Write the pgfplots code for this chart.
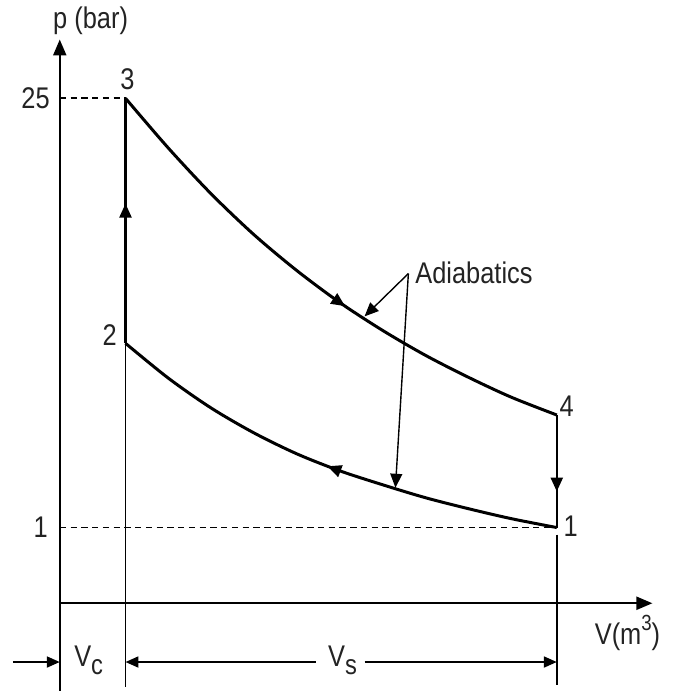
\documentclass[border=0pt]{standalone}
\usepackage{fontspec}
\setmainfont{Liberation Sans}[FakeStretch=0.85]
\usepackage{pgfplots}
\pgfplotsset{compat=1.18}
\usetikzlibrary{arrows.meta,decorations.markings}
\definecolor{txt}{RGB}{35,35,35}
\begin{document}
\begin{tikzpicture}[font=\fontsize{15}{18}\selectfont, text=txt,
  tri/.tip={Triangle[length=7pt,width=6pt]}, dtri/.tip={Triangle[length=6.5pt,width=5.5pt]}]
\begin{axis}[hide axis, x=0.5pt, y=0.5pt, xmin=0, xmax=680, ymin=0, ymax=692, clip=false,
  midarrow/.style={postaction={decorate}, decoration={markings, mark=at position #1 with {\arrow{Triangle[length=7pt,width=6pt]}}}}]
\path (axis cs:0,0) rectangle (axis cs:680,692);
% adiabatic expansion 3 -> 4
\addplot[line width=1.5pt, smooth, tension=0.5, midarrow=0.56] coordinates {
 (126,595) (169,545) (212,499) (255,458) (298,422) (341,390) (384,362) (427,337)
 (470,315) (513,295) (559,277)};
% adiabatic compression 1 -> 2
\addplot[line width=1.5pt, smooth, tension=0.5, midarrow=0.50] coordinates {
 (559,164) (513,173) (470,183) (427,194) (384,207) (341,221) (298,238) (255,259)
 (212,284) (169,314) (126,349)};
% constant volume 2 -> 3
\addplot[line width=1.2pt, midarrow=0.57] coordinates {(126,349) (126,595)};
% constant volume 4 -> 1
\addplot[line width=1.2pt, midarrow=0.68] coordinates {(559,277) (559,164)};
% axes
\draw[line width=1.1pt, -{Triangle[length=8pt,width=6.5pt]}] (axis cs:60,0) -- (axis cs:60,654);
\draw[line width=1.1pt, -{Triangle[length=8pt,width=6.5pt]}] (axis cs:60,88) -- (axis cs:655,88);
% vertical extension lines
\draw[line width=1pt] (axis cs:126,349) -- (axis cs:126,4);
\draw[line width=1pt] (axis cs:559,157) -- (axis cs:559,6);
% dashed lines
\draw[line width=0.9pt, dash pattern=on 3.2pt off 2.2pt] (axis cs:60,595) -- (axis cs:126,595);
\draw[line width=0.9pt, dash pattern=on 3.2pt off 2.2pt] (axis cs:60,164) -- (axis cs:559,164);
% leader lines
\draw[line width=0.7pt, -{tri}] (axis cs:410,419) -- (axis cs:366,376);
\draw[line width=0.7pt, -{tri}] (axis cs:410,419) -- (axis cs:397,204);
\node[anchor=west] at (axis cs:410,420) {Adiabatics};
% dimension arrows
\draw[line width=1pt, -{dtri}] (axis cs:13,29) -- (axis cs:60,29);
\draw[line width=1pt, {dtri}-] (axis cs:126,29) -- (axis cs:317,29);
\draw[line width=1pt, -{dtri}] (axis cs:366,29) -- (axis cs:559,29);
\node at (axis cs:89,31) {V\raisebox{-4pt}{\fontsize{14}{14}\selectfont c}};
\node at (axis cs:344,31) {V\raisebox{-4pt}{\fontsize{14}{14}\selectfont s}};
% labels
\node at (axis cs:91,673) {p (bar)};
\node at (axis cs:630,58) {V(m\raisebox{7pt}{\fontsize{11}{11}\selectfont 3})};
\node[anchor=east] at (axis cs:57,595) {25};
\node[anchor=east] at (axis cs:55,164) {1};
\node at (axis cs:128,614) {3};
\node at (axis cs:110,357) {2};
\node at (axis cs:569,286) {4};
\node at (axis cs:573,165) {1};
\end{axis}
\end{tikzpicture}
\end{document}
